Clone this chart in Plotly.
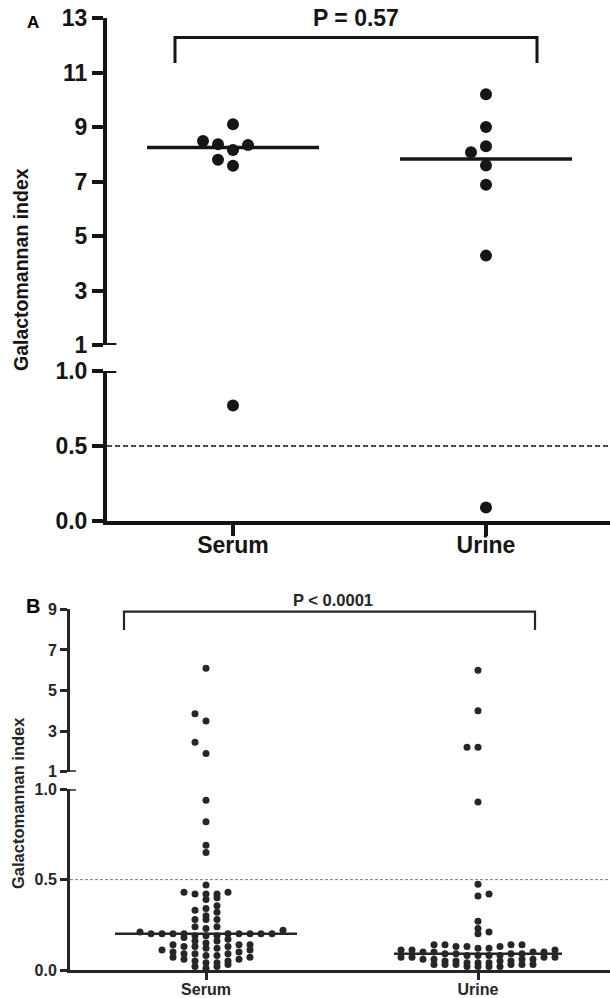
import numpy as np
import plotly.graph_objects as go

# ---------------- data ----------------
categories = ["Serum", "Urine"]

a_serum = [9.1, 8.49, 8.37, 8.34, 8.16, 7.8, 7.58, 0.77]
a_urine = [10.2, 9.0, 8.29, 8.07, 7.59, 6.88, 4.28, 0.09]
a_upper_ticks = [1, 3, 5, 7, 9, 11, 13]
a_lower_ticks = [0.0, 0.5, 1.0]
a_lower_ticktext = ["0.0", "0.5", "1.0"]
a_p_text = "P = 0.57"

b_serum = [6.1, 3.86, 3.5, 2.45, 1.9,
           0.94, 0.82, 0.69, 0.65,
           0.47,
           0.43, 0.43, 0.42, 0.42, 0.42,
           0.40, 0.39,
           0.355, 0.34,
           0.33, 0.32, 0.30,
           0.28, 0.28, 0.28,
           0.24, 0.24, 0.23,
           0.22, 0.21, 0.20, 0.20, 0.20, 0.20, 0.20, 0.20, 0.20, 0.20, 0.20,
           0.19, 0.19, 0.19,
           0.18, 0.17, 0.16, 0.16, 0.15,
           0.14, 0.14, 0.14, 0.13, 0.13, 0.13, 0.12, 0.12,
           0.11, 0.11, 0.10, 0.10, 0.09, 0.09, 0.09, 0.08, 0.08,
           0.07, 0.07, 0.06, 0.06, 0.05, 0.05, 0.04, 0.04,
           0.03, 0.02, 0.02, 0.01]
b_urine = [6.0, 4.0, 2.2, 2.2,
           0.93, 0.475, 0.42, 0.41, 0.27, 0.23, 0.21, 0.20,
           0.14, 0.14, 0.14, 0.14, 0.13, 0.13, 0.13, 0.12, 0.12,
           0.11, 0.11, 0.11,
           0.10, 0.10, 0.10, 0.10,
           0.09, 0.09, 0.09, 0.09,
           0.08, 0.08, 0.08, 0.08,
           0.07, 0.07, 0.07, 0.07,
           0.06, 0.06, 0.06, 0.06,
           0.05, 0.05, 0.05, 0.05,
           0.04, 0.04, 0.04,
           0.03, 0.03, 0.03, 0.03, 0.03, 0.03,
           0.02, 0.02, 0.02, 0.02]
b_upper_ticks = [1, 3, 5, 7, 9]
b_lower_ticks = [0.0, 0.5, 1.0]
b_lower_ticktext = ["0.0", "0.5", "1.0"]
b_p_text = "P &lt; 0.0001"

cutoff = 0.5
y_title = "Galactomannan index"

# ---------------- geometry / style ----------------
W, H = 610, 998
FONT = "Liberation Sans, Arial, Helvetica, sans-serif"


def xp(px):
    return px / W


def yp(py):
    return 1 - py / H


panels = [
    dict(letter="A", data=(a_serum, a_urine), up_ticks=a_upper_ticks,
         lo_ticks=a_lower_ticks, lo_text=a_lower_ticktext, p_text=a_p_text,
         xname="x", yup="y", ylo="y2",
         axis_px=107, cat_px=(233, 486), up_px=(18, 345), lo_px=(371, 521),
         line_w=4, tick_len=11, tick_font=23, tick_weight="bold",
         x_standoff=-11,
         dot=12, slot=15, row_h=13,
         swarm_rule={0: (15, -1), 1: (15, -1)},   # segment: (overlap px, first side)
         med_hw=(86, 86), med_w=3.5,
         color="#151515",
         bracket=(175, 537, 37.5, 63), bracket_w=3,
         p_pos=(356, 18), p_font=23, p_weight="bold",
         letter_pos=(33, 23), letter_font=17,
         title_pos=(21, 270), title_font=19.5, title_weight="bold",
         dash_w=1.5, dash="5px,3px", dash_color="#111"),
    dict(letter="B", data=(b_serum, b_urine), up_ticks=b_upper_ticks,
         lo_ticks=b_lower_ticks, lo_text=b_lower_ticktext, p_text=b_p_text,
         xname="x2", yup="y3", ylo="y4",
         axis_px=70, cat_px=(206, 478), up_px=(609.3, 771.7), lo_px=(789.3, 970),
         line_w=3, tick_len=7, tick_font=16, tick_weight="bold",
         x_standoff=-4,
         dot=7, slot=11, row_h=6.7,
         swarm_rule={0: (3, 1), 1: (11.5, -1)},
         med_hw=(91, 84), med_w=2.5,
         color="#262626",
         bracket=(124, 535, 611.7, 630), bracket_w=2.2,
         p_pos=(333, 600), p_font=16.5, p_weight="bold",
         letter_pos=(33, 606), letter_font=20,
         title_pos=(18, 803), title_font=16.5, title_weight="bold",
         dash_w=1, dash="3px,2px", dash_color="#777"),
]


def swarm_offsets(values, to_px, slot_px, row_h, rule):
    """GraphPad-like column scatter: values are grouped into horizontal rows
    of height row_h (pixels); within a row points spread over slots
    0, side, -side, 2*side, ... skipping slots where they would overlap a
    point of a neighbouring row (overlap distance per axis segment)."""
    vals = np.asarray(values, dtype=float)
    info = [to_px(v) for v in vals]  # (segment, pixel height above segment base)
    keys = [(seg, int(np.floor(h / row_h + 1e-9))) for seg, h in info]
    placed = []  # (segment, slot, height)
    offs = np.zeros(len(vals))
    for key in sorted(set(keys)):
        seg = key[0]
        thr, side = rule[seg]
        cands = [0]
        for j in range(1, 40):
            cands += [side * j, -side * j]
        members = sorted([i for i in range(len(vals)) if keys[i] == key],
                         key=lambda i: vals[i])
        used = set()
        for i in members:
            h = info[i][1]
            for s in cands:
                if s in used:
                    continue
                if any(ps == seg and pslot == s and abs(ph - h) < thr
                       for ps, pslot, ph in placed):
                    continue
                break
            used.add(s)
            placed.append((seg, s, h))
            offs[i] = s * slot_px
    return offs


fig = go.Figure()
layout = dict(shapes=[], annotations=[])

for P in panels:
    ppu = P["cat_px"][1] - P["cat_px"][0]
    x_rng = [1 - (P["cat_px"][0] - P["axis_px"]) / ppu,
             2 + (W - P["cat_px"][1]) / ppu]
    up_lo, up_hi = P["up_ticks"][0], P["up_ticks"][-1]
    u0, u1 = P["up_px"]
    l0, l1 = P["lo_px"]

    def to_px(v, u0=u0, u1=u1, l0=l0, l1=l1, up_lo=up_lo, up_hi=up_hi):
        if v >= 1:
            return (1, (v - up_lo) / (up_hi - up_lo) * (u1 - u0))
        return (0, v * (l1 - l0))

    xsuffix = "" if P["xname"] == "x" else P["xname"][1:]
    yup_key = "yaxis" + ("" if P["yup"] == "y" else P["yup"][1:])
    ylo_key = "yaxis" + P["ylo"][1:]
    tfont = dict(family=FONT, size=P["tick_font"], color=P["color"],
                 weight=P["tick_weight"])
    common = dict(showline=True, linewidth=P["line_w"], linecolor=P["color"],
                  ticks="outside", ticklen=P["tick_len"], tickwidth=P["line_w"],
                  tickcolor=P["color"], tickfont=tfont, showgrid=False,
                  zeroline=False, fixedrange=True, automargin=False)

    layout["xaxis" + xsuffix] = dict(
        domain=[xp(P["axis_px"]), 1], range=x_rng, anchor=P["ylo"],
        tickvals=[1, 2], ticktext=categories,
        ticklabelstandoff=P["x_standoff"], **common)
    layout[yup_key] = dict(
        domain=[yp(u1), yp(u0)], range=[up_lo, up_hi], anchor=P["xname"],
        tickvals=P["up_ticks"], **common)
    layout[ylo_key] = dict(
        domain=[yp(l1), yp(l0)], range=[0, 1], anchor=P["xname"],
        tickvals=P["lo_ticks"], ticktext=P["lo_text"], **common)

    # cutoff dashed line
    layout["shapes"].append(dict(
        type="line", xref="paper", yref=P["ylo"], x0=xp(P["axis_px"]), x1=1,
        y0=cutoff, y1=cutoff,
        line=dict(color=P["dash_color"], width=P["dash_w"], dash=P["dash"])))

    for ci, vals in enumerate(P["data"]):
        center = ci + 1
        offs = swarm_offsets(vals, to_px, P["slot"], P["row_h"], P["swarm_rule"])
        vals = np.asarray(vals, dtype=float)
        xs = center + offs / ppu
        for mask, yref in ((vals >= 1, P["yup"]), (vals < 1, P["ylo"])):
            if mask.any():
                fig.add_trace(go.Scatter(
                    x=xs[mask], y=vals[mask], mode="markers",
                    xaxis=P["xname"], yaxis=yref, cliponaxis=False,
                    marker=dict(size=P["dot"], color=P["color"], line=dict(width=0)),
                    hoverinfo="y", showlegend=False))
        med = float(np.median(vals))
        hw = P["med_hw"][ci] / ppu
        layout["shapes"].append(dict(
            type="line", xref=P["xname"], yref=P["yup"] if med >= 1 else P["ylo"],
            x0=center - hw, x1=center + hw, y0=med, y1=med,
            line=dict(color=P["color"], width=P["med_w"])))

    # axis-break marks (tick extended through the axis)
    ax = P["axis_px"]
    for yref, yv in ((P["yup"], up_lo), (P["ylo"], 1.0)):
        layout["shapes"].append(dict(
            type="line", xref="paper", yref=yref,
            x0=xp(ax - P["tick_len"]), x1=xp(ax + P["tick_len"] * 0.85),
            y0=yv, y1=yv, line=dict(color=P["color"], width=P["line_w"])))

    # significance bracket
    bx0, bx1, btop, bleg = P["bracket"]
    layout["shapes"].append(dict(
        type="path", xref="paper", yref="paper",
        path=f"M {xp(bx0)},{yp(bleg)} L {xp(bx0)},{yp(btop)} "
             f"L {xp(bx1)},{yp(btop)} L {xp(bx1)},{yp(bleg)}",
        line=dict(color=P["color"], width=P["bracket_w"])))

    layout["annotations"] += [
        dict(text=P["p_text"], xref="paper", yref="paper",
             x=xp(P["p_pos"][0]), y=yp(P["p_pos"][1]),
             xanchor="center", yanchor="middle", showarrow=False,
             font=dict(family=FONT, size=P["p_font"], color=P["color"],
                       weight=P["p_weight"])),
        dict(text=P["letter"], xref="paper", yref="paper",
             x=xp(P["letter_pos"][0]), y=yp(P["letter_pos"][1]),
             xanchor="center", yanchor="middle", showarrow=False,
             font=dict(family=FONT, size=P["letter_font"], color="#000",
                       weight="bold")),
        dict(text=y_title, xref="paper", yref="paper",
             x=xp(P["title_pos"][0]), y=yp(P["title_pos"][1]),
             xanchor="center", yanchor="middle", showarrow=False, textangle=-90,
             font=dict(family=FONT, size=P["title_font"], color=P["color"],
                       weight=P["title_weight"])),
    ]

fig.update_layout(
    width=W, height=H, margin=dict(l=0, r=0, t=0, b=0, pad=0),
    paper_bgcolor="white", plot_bgcolor="white", showlegend=False,
    **layout)

fig.write_html(
    "out.html",
    config={"displayModeBar": False, "staticPlot": True},
    post_script="document.body.style.margin='0px';document.body.style.padding='0px';",
)
